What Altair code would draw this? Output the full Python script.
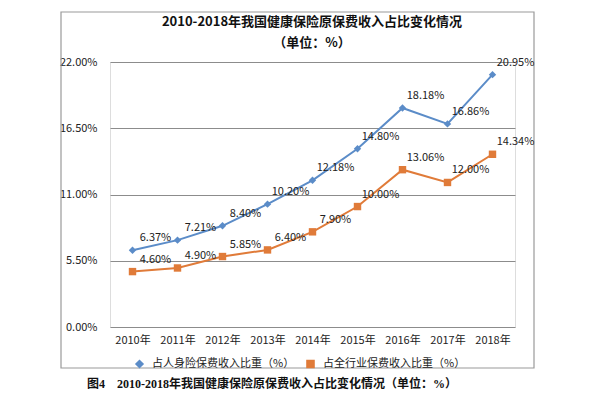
import altair as alt
import pandas as pd

years = ["2010年", "2011年", "2012年", "2013年", "2014年", "2015年", "2016年", "2017年", "2018年"]
life_share = [6.37, 7.21, 8.40, 10.20, 12.18, 14.80, 18.18, 16.86, 20.95]
total_share = [4.60, 4.90, 5.85, 6.40, 7.90, 10.00, 13.06, 12.00, 14.34]
series_names = ["占人身险保费收入比重（%）", "占全行业保费收入比重（%）"]
y_ticks = [0, 5.5, 11, 16.5, 22]
title_lines = ["2010-2018年我国健康保险原保费收入占比变化情况", "（单位：%）"]
caption = "图4　2010-2018年我国健康保险原保费收入占比变化情况（单位：%）"

rows = []
for i, y in enumerate(years):
    rows.append({"year": y, "series": series_names[0], "value": life_share[i]})
    rows.append({"year": y, "series": series_names[1], "value": total_share[i]})
df = pd.DataFrame(rows)

FONT = "Noto Sans CJK SC"
BLUE = "#5b8cc8"
ORANGE = "#e07b39"

x_enc = alt.X("year:N", sort=years, scale=alt.Scale(type="point", padding=0.5),
              axis=alt.Axis(title=None, labelAngle=0, ticks=False, domain=False,
                            labelPadding=7, labelFontSize=11, labelFont=FONT,
                            labelColor="#222222", grid=False))
y_enc = alt.Y("value:Q", scale=alt.Scale(domain=[0, 22], nice=False, zero=True),
              axis=alt.Axis(title=None, values=y_ticks, ticks=False, domain=False,
                            labelExpr="format(datum.value, '.2f') + '%'",
                            labelPadding=13, labelFontSize=11, labelFont=FONT,
                            labelColor="#222222", grid=True, gridColor="#8c8c8c",
                            gridWidth=1))
color_enc = alt.Color("series:N", scale=alt.Scale(domain=series_names, range=[BLUE, ORANGE]),
                      legend=alt.Legend(title=None, orient="none", direction="horizontal",
                                        legendX=24, legendY=296, labelFont=FONT,
                                        labelFontSize=11, labelColor="#222222",
                                        columnPadding=8, labelOffset=7, symbolSize=50))
shape_enc = alt.Shape("series:N", scale=alt.Scale(domain=series_names, range=["diamond", "square"]),
                      legend=None)

base = alt.Chart(df)
lines = base.mark_line(strokeWidth=2).encode(x=x_enc, y=y_enc, color=color_enc, detail="series:N")
points = base.mark_point(filled=True, opacity=1, size=55).encode(
    x=x_enc, y=y_enc,
    color=alt.Color("series:N", scale=alt.Scale(domain=series_names, range=[BLUE, ORANGE]), legend=None),
    shape=shape_enc)
labels = base.transform_calculate(lbl="format(datum.value, '.2f') + '%'").mark_text(
    dx=23, dy=-12, fontSize=11, font=FONT, color="#222222").encode(
    x=x_enc, y=y_enc, text="lbl:N")

frame = alt.Chart(pd.DataFrame({"k": [0]})).mark_rect(fill=None, stroke="#9a9a9a", strokeWidth=1.2).encode(
    x=alt.value(-49), x2=alt.value(424), y=alt.value(-50), y2=alt.value(306))

title_df = pd.DataFrame({"t": title_lines, "yy": [-40, -19]})
title = alt.Chart(title_df).mark_text(font=FONT, fontSize=13, fontWeight="bold", color="#111111",
                                      align="center", baseline="middle").encode(
    x=alt.value(202), y=alt.Y("yy:Q", scale=None), text="t:N")

cap = alt.Chart(pd.DataFrame({"t": [caption]})).mark_text(
    font="Liberation Serif, Noto Sans CJK SC", fontSize=12, fontWeight="bold", color="#111111",
    align="left", baseline="middle").encode(x=alt.value(-23), y=alt.value(322), text="t:N")

chart = alt.layer(frame, lines, points, labels, title, cap).properties(
    width=405, height=265,
    autosize=alt.AutoSizeParams(type="none"),
    padding={"left": 102, "top": 54, "right": 70, "bottom": 66},
).configure_view(stroke=None).configure(background="white")

chart.save("out.html", embed_options={"renderer": "svg", "actions": False})
